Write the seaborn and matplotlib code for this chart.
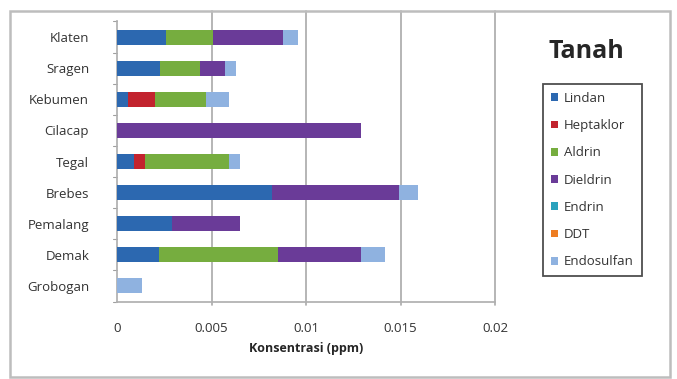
import numpy as np
import pandas as pd
import seaborn as sns
import matplotlib.pyplot as plt
from matplotlib.patches import Rectangle, Patch

sns.set_theme(style="white")
plt.rcParams['font.family'] = ['Open Sans', 'DejaVu Sans']

# Pesticide residue in soil, ppm, per district
lokasi = ["Klaten", "Sragen", "Kebumen", "Cilacap", "Tegal",
          "Brebes", "Pemalang", "Demak", "Grobogan"]
lindan     = [0.0026, 0.0023, 0.0006, 0.0,    0.0009, 0.0082, 0.0029, 0.0022, 0.0]
heptaklor  = [0.0,    0.0,    0.0014, 0.0,    0.0006, 0.0,    0.0,    0.0,    0.0]
aldrin     = [0.0025, 0.0021, 0.0027, 0.0,    0.0044, 0.0,    0.0,    0.0063, 0.0]
dieldrin   = [0.0037, 0.0013, 0.0,    0.0129, 0.0,    0.0067, 0.0036, 0.0044, 0.0]
endrin     = [0.0,    0.0,    0.0,    0.0,    0.0,    0.0,    0.0,    0.0,    0.0]
ddt        = [0.0,    0.0,    0.0,    0.0,    0.0,    0.0,    0.0,    0.0,    0.0]
endosulfan = [0.0008, 0.0006, 0.0012, 0.0,    0.0006, 0.0010, 0.0,    0.0013, 0.0013]

senyawa = ["Lindan", "Heptaklor", "Aldrin", "Dieldrin", "Endrin", "DDT", "Endosulfan"]
warna = ["#2c68b0", "#c2232e", "#76ad3f", "#6a3b98", "#2aa2bd", "#ee7d22", "#8fb2e0"]
nilai = [lindan, heptaklor, aldrin, dieldrin, endrin, ddt, endosulfan]

df = pd.DataFrame(dict(zip(senyawa, nilai)), index=lokasi)
kumulatif = df.cumsum(axis=1)

fig = plt.figure(figsize=(6.77, 3.79), dpi=100)
ax = fig.add_axes([117 / 677, 1 - 301.5 / 379, (495 - 117) / 677, (301.5 - 21.5) / 379])

# stacked bars: draw running totals from the last compound down to the first
for nama, w in reversed(list(zip(senyawa, warna))):
    sns.barplot(x=kumulatif[nama].values, y=lokasi, orient="h", color=w,
                width=0.48, ax=ax, saturation=1, edgecolor="none", zorder=3)

ax.set_xlim(0, 0.02)
ax.set_ylim(8.5, -0.5)
ax.set_xticks([0, 0.005, 0.01, 0.015, 0.02])
ax.set_xticklabels(["0", "0.005", "0.01", "0.015", "0.02"])
ax.tick_params(axis="x", length=0, pad=15, labelsize=9.5, labelcolor="#333333")
ax.tick_params(axis="y", length=0, pad=20, labelsize=9.5, labelcolor="#333333")
ax.set_xlabel("Konsentrasi (ppm)", fontsize=9, fontweight="bold", labelpad=5)
ax.set_ylabel("")
for x in [0.005, 0.01, 0.015, 0.02]:
    ax.plot([x, x], [8.6, -0.85], color="#a9a9a9", lw=1.2, zorder=1, clip_on=False)
for s in ["top", "right"]:
    ax.spines[s].set_visible(False)
ax.spines["left"].set_color("#b0b0b0")
ax.spines["bottom"].set_color("#b0b0b0")
# small category separator ticks on the wall
for k in np.arange(-0.5, 9.0, 1.0):
    ax.plot([-0.0002, 0], [k, k], color="#a0a0a0", lw=0.8, clip_on=False)

# chart border
fig.add_artist(Rectangle((10 / 677, 2 / 379), 660 / 677, 366 / 379,
                         transform=fig.transFigure, fill=False,
                         edgecolor="#bdbdbd", lw=1.8))

fig.text(586 / 677, 1 - 52 / 379, "Tanah", fontsize=18, fontweight="bold",
         ha="center", va="center")
handles = [Patch(facecolor=w, edgecolor="none") for w in warna]
leg = fig.legend(handles, senyawa, loc="upper left",
                 bbox_to_anchor=(543 / 677, 1 - 84 / 379), borderaxespad=0,
                 fontsize=9.5, frameon=True, fancybox=False,
                 handlelength=0.55, handleheight=0.55, handletextpad=0.45,
                 labelspacing=1.08, borderpad=0.6)
leg.get_frame().set_edgecolor("#222222")
leg.get_frame().set_linewidth(1.3)
for t in leg.get_texts():
    t.set_color("#333333")

fig.savefig("out.png", dpi=100)
